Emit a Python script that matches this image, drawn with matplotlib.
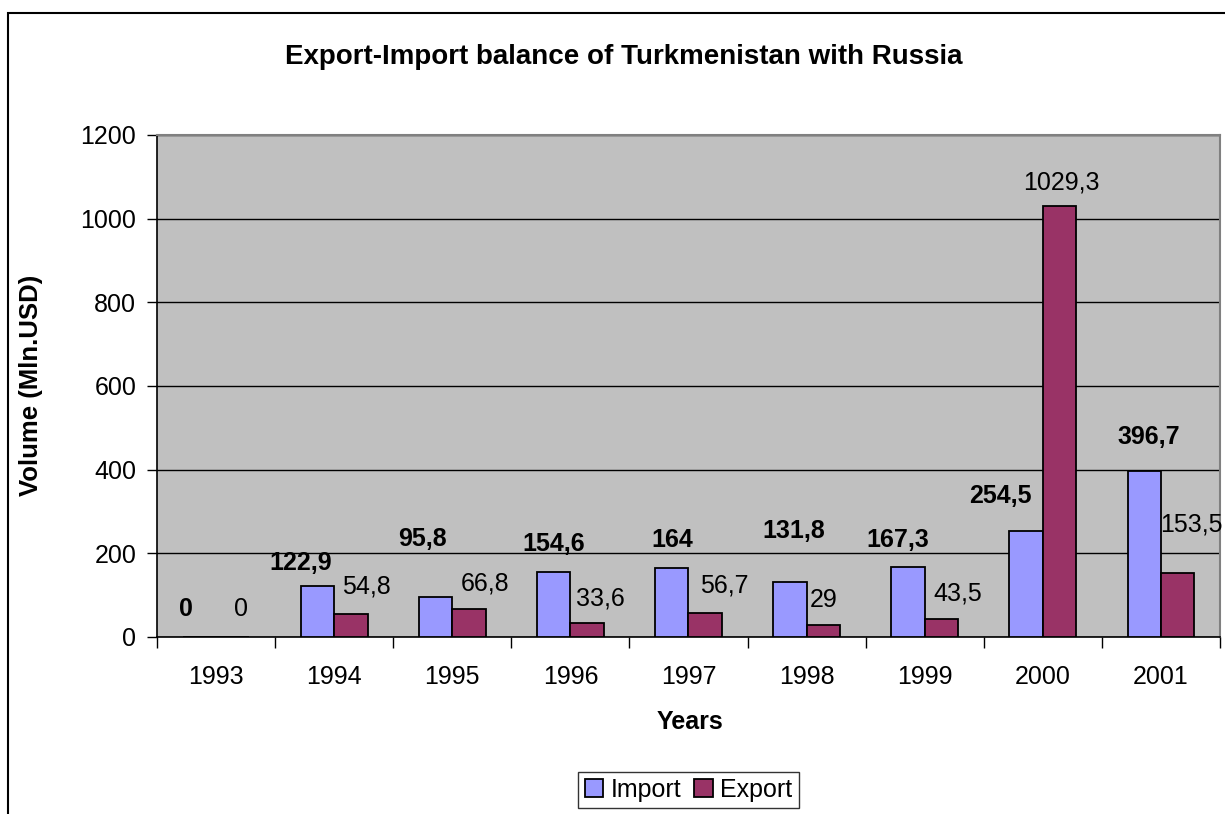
import matplotlib
matplotlib.use("Agg")
import matplotlib.pyplot as plt
import numpy as np
from matplotlib.patches import Rectangle

# data
years = ["1993", "1994", "1995", "1996", "1997", "1998", "1999", "2000", "2001"]
import_vals = [0, 122.9, 95.8, 154.6, 164, 131.8, 167.3, 254.5, 396.7]
export_vals = [0, 54.8, 66.8, 33.6, 56.7, 29, 43.5, 1029.3, 153.5]

# label placement (Excel labels were dragged by hand), x offset from category centre, y in data units
import_lbl_dx = [-0.254, -0.280, -0.254, -0.144, -0.136, -0.110, -0.229, -0.356, -0.102]
import_lbl_y = [67, 177, 234, 222, 232, 253, 232, 337, 478]
export_lbl_dx = [0.212, 0.271, 0.280, 0.254, 0.305, 0.144, 0.280, 0.153, 0.254]
export_lbl_y = [67, 120, 127, 93, 124, 88, 103, 1087, 270]


def fmt(v):
    s = f"{v:g}"
    return s.replace(".", ",")


plt.rcParams["font.family"] = ["Liberation Sans", "DejaVu Sans"]

fig = plt.figure(figsize=(12.25, 8.14), dpi=100)
ax = fig.add_axes([157 / 1225, 1 - 637 / 814, (1220 - 157) / 1225, (637 - 135) / 814])
ax.set_facecolor("#C0C0C0")

x = np.arange(len(years))
w = 0.283
ax.bar(x - w / 2, import_vals, w, color="#9999FF", edgecolor="black", linewidth=1.3, label="Import", zorder=3)
ax.bar(x + w / 2, export_vals, w, color="#993366", edgecolor="black", linewidth=1.3, label="Export", zorder=3)

for i in range(len(years)):
    ax.text(x[i] + import_lbl_dx[i], import_lbl_y[i], fmt(import_vals[i]), ha="center", va="center",
            fontsize=18, fontweight="bold", zorder=4)
    ax.text(x[i] + export_lbl_dx[i], export_lbl_y[i], fmt(export_vals[i]), ha="center", va="center",
            fontsize=18, zorder=4)

ax.set_xlim(-0.5, len(years) - 0.5)
ax.set_ylim(0, 1200)
ax.set_yticks(np.arange(0, 1201, 200))
ax.yaxis.grid(True, color="black", linewidth=1)
ax.set_axisbelow(True)

# ticks between categories, labels at centres
ax.set_xticks(np.arange(-0.5, len(years), 1))
ax.set_xticklabels([])
ax.set_xticks(x, minor=True)
ax.set_xticklabels(years, minor=True)
ax.tick_params(axis="x", which="major", length=8, width=1, direction="out")
ax.tick_params(axis="x", which="minor", length=0, pad=20, labelsize=18)
ax.tick_params(axis="y", length=7, width=1, direction="out", pad=8, labelsize=18)

for s in ["top", "right"]:
    ax.spines[s].set_color("#808080")
    ax.spines[s].set_linewidth(1.5)
for s in ["left", "bottom"]:
    ax.spines[s].set_color("black")
    ax.spines[s].set_linewidth(1.2)

fig.text(0.509, 0.930, "Export-Import balance of Turkmenistan with Russia", ha="center", va="center",
         fontsize=20, fontweight="bold")
fig.text(0.0255, 0.527, "Volume (Mln.USD)", ha="center", va="center", rotation=90,
         fontsize=18.5, fontweight="bold")
fig.text(0.563, 0.113, "Years", ha="center", va="center", fontsize=18, fontweight="bold")

leg = fig.legend(loc="center", bbox_to_anchor=(0.562, 0.0295), ncol=2, fontsize=18, frameon=True,
                 fancybox=False, edgecolor="black", handlelength=0.75, handleheight=0.75,
                 handletextpad=0.3, columnspacing=0.5, borderpad=0.25, borderaxespad=0)
leg.get_frame().set_linewidth(1)

# chart area outline
fig.add_artist(Rectangle((8 / 1225, -0.1), 1.2, 1 - 13 / 814 + 0.1, transform=fig.transFigure,
                         fill=False, edgecolor="black", linewidth=1.5))

fig.savefig("out.png", dpi=100)
